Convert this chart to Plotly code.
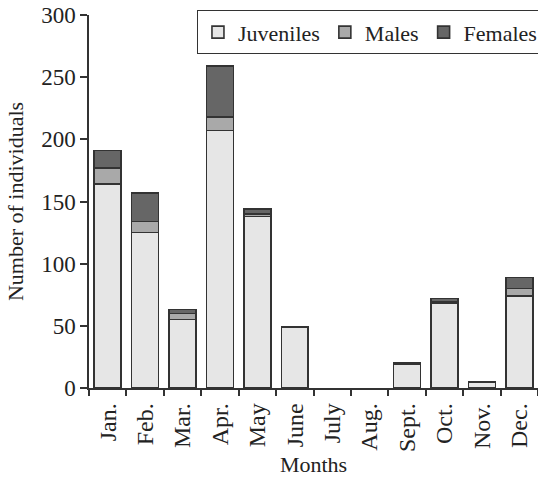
import plotly.graph_objects as go

months = ["Jan.", "Feb.", "Mar.", "Apr.", "May", "June", "July", "Aug.",
          "Sept.", "Oct.", "Nov.", "Dec."]
juveniles = [164, 125, 55, 207, 138, 49, 0, 0, 19, 68, 5, 74]
males = [13, 9, 5, 11, 2, 0, 0, 0, 0, 1, 0, 6]
females = [14, 23, 3, 41, 4, 0, 0, 0, 1, 3, 0, 9]

FONT = "Liberation Serif"
EDGE = "#333333"


def drop_zeros(vals):
    # empty segments are left out so no flat outline is drawn
    return [v if v else None for v in vals]


fig = go.Figure()
for name, vals, color in [("Juveniles", juveniles, "#e6e6e6"),
                          ("Males", males, "#a9a9a9"),
                          ("Females", females, "#666666")]:
    fig.add_trace(go.Bar(
        x=months, y=drop_zeros(vals), name=name,
        marker=dict(color=color, line=dict(color=EDGE, width=1.6)),
    ))

fig.update_layout(
    barmode="stack",
    bargap=0.28,
    width=538, height=482,
    margin=dict(l=89, r=0, t=15, b=94, autoexpand=False),
    paper_bgcolor="white", plot_bgcolor="white",
    font=dict(family=FONT, size=22, color="#222222"),
    showlegend=True,
    legend=dict(
        orientation="h",
        x=0.24, xanchor="left", y=1.013, yanchor="top",
        bordercolor="#333333", borderwidth=1.2,
        bgcolor="white",
        font=dict(family=FONT, size=22, color="#222222"),
        traceorder="normal",
    ),
)

fig.update_xaxes(
    type="category",
    range=[-0.5, 11.5],
    showline=True, linecolor="#333333", linewidth=1.5,
    ticks="outside", tickson="boundaries", ticklen=6,
    tickcolor="#333333", tickwidth=1.5,
    tickangle=-90, ticklabelstandoff=4,
    tickfont=dict(family=FONT, size=24),
    title=dict(text="Months", font=dict(family=FONT, size=22), standoff=6),
    showgrid=False,
)
fig.update_yaxes(
    range=[0, 300],
    tickvals=[0, 50, 100, 150, 200, 250, 300],
    showline=True, linecolor="#333333", linewidth=1.5,
    ticks="outside", ticklen=7, tickcolor="#333333", tickwidth=1.5,
    tickfont=dict(family=FONT, size=23),
    title=dict(text="Number of individuals", font=dict(family=FONT, size=22), standoff=11),
    showgrid=False, zeroline=False,
)

fig.write_html("out.html")
